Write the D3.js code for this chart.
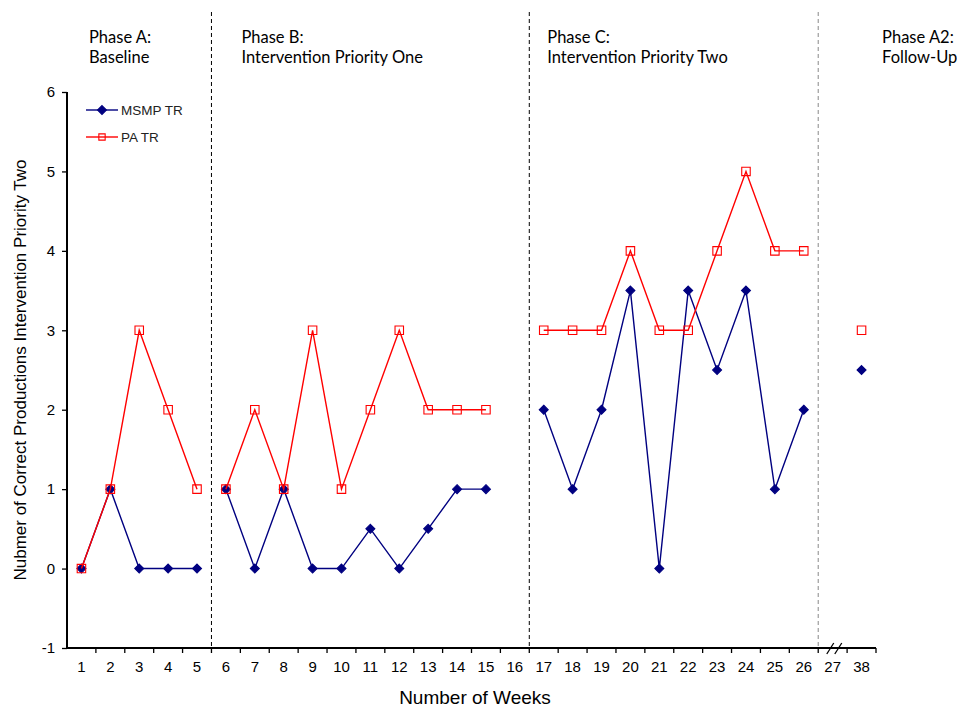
<!DOCTYPE html>
<html><head><meta charset="utf-8">
<script src="https://cdn.jsdelivr.net/npm/d3@7"></script>
<style>body{margin:0;background:#fff}svg{display:block}</style>
</head><body>
<svg id="c" width="957" height="709"></svg>
<script>
const weeks = ["1","2","3","4","5","6","7","8","9","10","11","12","13","14","15","16","17","18","19","20","21","22","23","24","25","26","27","38"];
const phaseOf = [0,0,0,0,0,1,1,1,1,1,1,1,1,1,1,1,2,2,2,2,2,2,2,2,2,2,3,3];
const msmp = [0,1,0,0,0, 1,0,1,0,0,0.5,0,0.5,1,1,null, 2,1,2,3.5,0,3.5,2.5,3.5,1,2, null,2.5];
const pa   = [0,1,3,2,1, 1,2,1,3,1,2,3,2,2,2,null, 3,3,3,4,3,3,4,5,4,4, null,3];
const yTicks = [-1,0,1,2,3,4,5,6];
const phaseLabels = [["Phase A:","Baseline"],["Phase B:","Intervention Priority One"],["Phase C:","Intervention Priority Two"],["Phase A2:","Follow-Up"]];
const phaseLabelAt = ["1","6","17","38"];
const phaseBoundaries = [{after:"5",color:"#000"},{after:"16",color:"#000"},{after:"26",color:"#888"}];

const svg = d3.select("#c");
const L=67, R=876, T=92, B=648;
const x = d3.scaleBand().domain(weeks).range([L,R]);
const y = d3.scaleLinear().domain([-1,6]).range([B,T]);
const font = "Arial, 'Liberation Sans', sans-serif";

// phase lines
phaseBoundaries.forEach(p=>{
  const xx = x(p.after)+x.bandwidth();
  svg.append("line").attr("x1",xx).attr("x2",xx).attr("y1",12).attr("y2",B)
    .attr("stroke",p.color).attr("stroke-width",1).attr("stroke-dasharray","4,3");
});

// y axis
const ya = svg.append("g").attr("transform",`translate(${L},0)`)
  .call(d3.axisLeft(y).tickValues(yTicks).tickSize(5).tickFormat(d=>String(d)));
ya.attr("font-family",font);
ya.select(".domain").attr("stroke","#000").attr("stroke-width",2).attr("d",`M0,${T}V${B}`);
ya.selectAll(".tick line").attr("stroke","#000").attr("stroke-width",1.3);
ya.selectAll("text").attr("font-family",font).attr("font-size",15).attr("fill","#000").attr("x",-12);

// x axis
const xa = svg.append("g").attr("transform",`translate(0,${B})`)
  .call(d3.axisBottom(x).tickSize(0).tickPadding(13));
xa.attr("font-family",font);
xa.select(".domain").remove();
xa.selectAll("text").attr("font-family",font).attr("font-size",15).attr("fill","#000");
svg.append("line").attr("x1",L).attr("x2",R).attr("y1",B).attr("y2",B).attr("stroke","#000").attr("stroke-width",2);
weeks.forEach((w,i)=>{
  const xx = x(w)+x.bandwidth();
  svg.append("line").attr("x1",xx).attr("x2",xx).attr("y1",B).attr("y2",B+5).attr("stroke","#000").attr("stroke-width",1.3);
});
// break mark
const bx = x("27")+x.bandwidth()*0.4;
[0,8].forEach(o=>{
  svg.append("line").attr("x1",bx+o-3).attr("y1",B+6).attr("x2",bx+o+4).attr("y2",B-5)
    .attr("stroke","#000").attr("stroke-width",1.3);
});

// titles
svg.append("text").attr("x",475).attr("y",704).attr("text-anchor","middle")
  .attr("font-family",font).attr("font-size",19).text("Number of Weeks");
svg.append("text").attr("transform","translate(26,370) rotate(-90)").attr("text-anchor","middle")
  .attr("font-family",font).attr("font-size",17).text("Nubmer of Correct Productions Intervention Priority Two");

// phase labels
const labelOffsets = [22, 30, 18, 35];
phaseLabels.forEach((pl,i)=>{
  const xx = x(phaseLabelAt[i]) + labelOffsets[i];
  const t = svg.append("text").attr("font-family","Lato, 'Open Sans', sans-serif").attr("font-size",16.5).attr("fill","#000");
  t.append("tspan").attr("x",xx).attr("y",43).text(pl[0]);
  t.append("tspan").attr("x",xx).attr("y",63).text(pl[1]);
});

// series
const cx = i => x(weeks[i]) + x.bandwidth()/2;
function drawSeries(vals, color, sym, size, fill){
  const pts = vals.map((v,i)=>({i,v,ph:phaseOf[i]})).filter(d=>d.v!==null);
  const groups = d3.groups(pts,d=>d.ph);
  const line = d3.line().x(d=>cx(d.i)).y(d=>y(d.v));
  groups.forEach(([ph,arr])=>{
    svg.append("path").attr("d",line(arr)).attr("fill","none").attr("stroke",color).attr("stroke-width",1.4);
  });
  svg.append("g").selectAll("path").data(pts).join("path")
    .attr("transform",d=>`translate(${cx(d.i)},${y(d.v)})`)
    .attr("d",d3.symbol().type(sym).size(size)).attr("fill",fill).attr("stroke",color).attr("stroke-width",1.1);
}
const diamond = {draw(ctx,size){const r=Math.sqrt(size/2);ctx.moveTo(0,-r);ctx.lineTo(r,0);ctx.lineTo(0,r);ctx.lineTo(-r,0);ctx.closePath();}};
drawSeries(msmp,"#000080",diamond,40,"#000080");
drawSeries(pa,"#ff0000",d3.symbolSquare,72,"none");

// legend
const lg = [{name:"MSMP TR",color:"#000080",sym:diamond,size:40,fill:"#000080",y:110},
            {name:"PA TR",color:"#ff0000",sym:d3.symbolSquare,size:40,fill:"none",y:137}];
lg.forEach(d=>{
  svg.append("line").attr("x1",86).attr("x2",118).attr("y1",d.y).attr("y2",d.y).attr("stroke",d.color).attr("stroke-width",1.4);
  svg.append("path").attr("transform",`translate(102,${d.y})`).attr("d",d3.symbol().type(d.sym).size(d.size))
    .attr("fill",d.fill).attr("stroke",d.color).attr("stroke-width",1.1);
  svg.append("text").attr("x",121).attr("y",d.y+5).attr("font-family",font).attr("font-size",13.5).attr("fill","#222").text(d.name);
});
</script>
</body></html>
